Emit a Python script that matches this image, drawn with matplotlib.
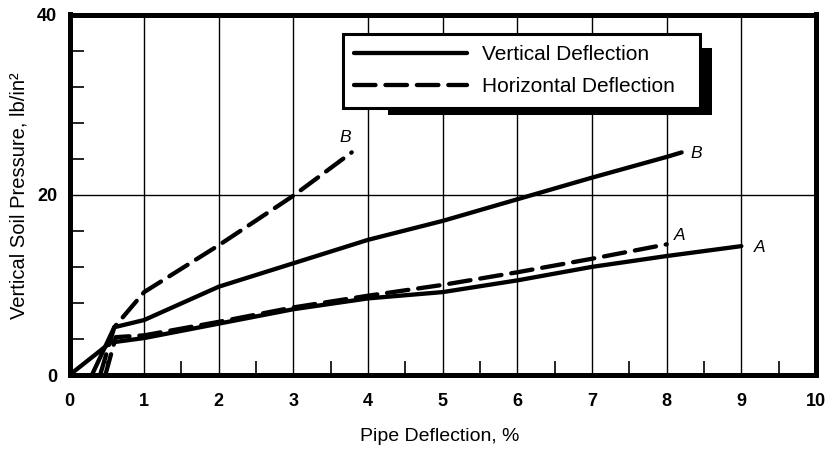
import numpy as np
import matplotlib
matplotlib.use('Agg')
import matplotlib.pyplot as plt
from matplotlib.ticker import MultipleLocator, FixedLocator
from matplotlib.patches import Rectangle
from matplotlib.transforms import IdentityTransform

plt.rcParams['font.family'] = ['Liberation Sans', 'DejaVu Sans']

# ---------------------------------------------------------------
# Data
# ---------------------------------------------------------------
vert_A_x = [0.0, 0.55, 1.0, 2.0, 3.0, 4.0, 5.0, 6.0, 7.0, 8.0, 9.0]
vert_A_y = [0.0, 3.6, 4.1, 5.7, 7.3, 8.5, 9.2, 10.5, 12.0, 13.2, 14.3]

vert_B_x = [0.3, 0.6, 1.0, 2.0, 3.0, 4.0, 5.0, 6.0, 7.0, 8.0, 8.2]
vert_B_y = [0.0, 5.3, 6.1, 9.8, 12.4, 15.0, 17.1, 19.5, 21.9, 24.2, 24.7]

horiz_A_x = [0.48, 0.62, 1.0, 2.0, 3.0, 4.0, 5.0, 6.0, 7.0, 8.0]
horiz_A_y = [0.0, 4.2, 4.4, 5.9, 7.5, 8.8, 10.0, 11.4, 12.9, 14.5]

horiz_B_x = [0.41, 0.6, 1.0, 2.0, 3.0, 3.78]
horiz_B_y = [0.0, 5.3, 9.2, 14.4, 19.9, 24.7]

# curve end labels: (text, x, y)
end_labels = [('B', 3.7, 26.4), ('B', 8.4, 24.6), ('A', 8.17, 15.5), ('A', 9.25, 14.2)]

x_ticks = [0, 1, 2, 3, 4, 5, 6, 7, 8, 9, 10]
y_ticks = [0, 20, 40]

# ---------------------------------------------------------------
# Figure
# ---------------------------------------------------------------
W, H = 835, 453
fig = plt.figure(figsize=(W / 100, H / 100), dpi=100)
ax = fig.add_axes([69.5 / W, 1 - 375 / H, (816 - 69.5) / W, (375 - 14.5) / H])

lw = 3.1
dash = (5.0, 2.3)
ax.plot(vert_A_x, vert_A_y, 'k-', lw=lw, solid_capstyle='round', label='Vertical Deflection', zorder=3)
ax.plot(vert_B_x, vert_B_y, 'k-', lw=lw, solid_capstyle='round', zorder=3)
ax.plot(horiz_A_x, horiz_A_y, 'k--', lw=lw, dashes=dash, dash_capstyle='round', label='Horizontal Deflection', zorder=3)
ax.plot(horiz_B_x, horiz_B_y, 'k--', lw=lw, dashes=dash, dash_capstyle='round', zorder=3)

for txt, tx, ty in end_labels:
    ax.text(tx, ty, txt, fontsize=12.5, style='italic', ha='center', va='center')

ax.set_xlim(0, 10)
ax.set_ylim(0, 40)

# grid: vertical lines at every integer, horizontal only at 20
ax.xaxis.set_major_locator(FixedLocator(x_ticks))
ax.yaxis.set_major_locator(FixedLocator(y_ticks))
for xv in x_ticks[1:-1]:
    ax.axvline(xv, color='k', lw=1.0, zorder=1)
ax.axhline(20, color='k', lw=1.0, zorder=1)

ax.xaxis.set_minor_locator(MultipleLocator(0.5))
ax.yaxis.set_minor_locator(FixedLocator([4, 8, 12, 16, 24, 28, 32, 36]))
ax.tick_params(which='major', length=0, labelsize=13)
ax.tick_params(axis='x', which='major', pad=13)
ax.tick_params(axis='y', which='major', pad=9)
ax.tick_params(which='minor', direction='in', length=10, width=1.2, color='k')
ax.tick_params(axis='x', which='minor', top=False)
ax.tick_params(axis='y', which='minor', right=False)
for lab in ax.get_xticklabels() + ax.get_yticklabels():
    lab.set_fontweight('bold')

for sp in ax.spines.values():
    sp.set_linewidth(3.6)
    sp.set_zorder(4)

ax.set_xlabel('Pipe Deflection, %', fontsize=14)
ax.xaxis.set_label_coords(0.496, -0.148)
fig.text(19 / W, 1 - 196 / H, 'Vertical Soil Pressure, lb/in²', fontsize=14.5,
         rotation=90, ha='center', va='center')

# legend box
leg = ax.legend(loc='upper left',
                bbox_to_anchor=(343 / W, 1 - 105 / H, 357 / W, 71 / H),
                bbox_transform=fig.transFigure, borderaxespad=0, mode='expand',
                fontsize=15, handlelength=5.4, handletextpad=0.7,
                borderpad=0.55, labelspacing=0.62, fancybox=False,
                framealpha=1, edgecolor='k')
leg.get_frame().set_linewidth(2.2)
leg.set_zorder(6)

# heavy black drop shadow (bottom and right bars) behind the legend box
fig.canvas.draw()
bb = leg.get_frame().get_window_extent()
shadow = Rectangle((bb.x0 + 45, bb.y0 - 7), bb.width - 33, bb.height - 7,
                   transform=IdentityTransform(), facecolor='k', edgecolor='none',
                   zorder=5, clip_on=False)
ax.add_patch(shadow)

fig.savefig('out.png', dpi=100)
